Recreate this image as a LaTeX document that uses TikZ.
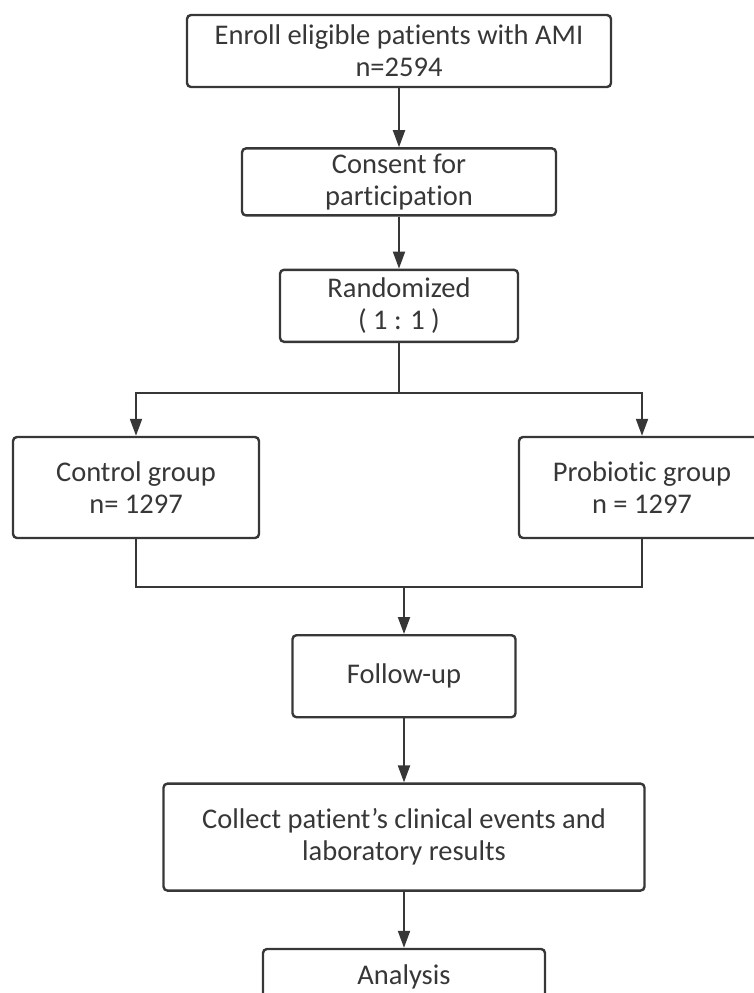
\documentclass[tikz,border=0pt]{standalone}
\usepackage{fontspec}
\setmainfont{Carlito}[Ligatures=NoCommon]
\usepackage{tikz}
\usetikzlibrary{arrows.meta, positioning}
\usepackage{xcolor}
\definecolor{LineGray}{RGB}{55,55,55}

\begin{document}
\begin{tikzpicture}[x=1pt, y=-1pt,
          stage/.style={rectangle, draw=LineGray, line width=2.4pt, rounded corners=4pt, inner sep=0pt, align=center, text=LineGray, font=\fontsize{28.5}{32}\selectfont},
          flow/.style={draw=LineGray, line width=2pt, -{Triangle[length=17pt, width=12pt]}},
          link/.style={draw=LineGray, line width=2pt}
        ]
          \useasboundingbox (0,0) rectangle (753,993);
          \node (enroll) [stage, minimum width=424pt, minimum height=72pt] at (399,51) {Enroll eligible patients with AMI\\n=2594};
          \node (consent) [stage, minimum width=314pt, minimum height=67pt, below=59pt of enroll] {Consent for\\participation};
          \node (random) [stage, minimum width=238pt, minimum height=72pt, below=52pt of consent] {Randomized\\( 1 : 1 )};
          \coordinate [below=50pt of random] (split);
          \node (control) [stage, minimum width=246pt, minimum height=101pt] at (136,487.5) {Control group\\n= 1297};
          \node (probiotic) [stage, minimum width=246pt, minimum height=101pt] at (642,487.5) {Probiotic group\\n = 1297};
          \coordinate (merge) at (404,587);
          \node (follow) [stage, minimum width=223pt, minimum height=82pt, below=47pt of merge] {Follow-up};
          \node (collect) [stage, minimum width=481pt, minimum height=107pt, below=64pt of follow] {Collect patient's clinical events and\\laboratory results};
          \node (analysis) [stage, minimum width=282pt, minimum height=56pt, below=56pt of collect] {Analysis}; % cut by the page edge
          % connectors
          \draw [flow] (enroll) -- (consent);
          \draw [flow] (consent) -- (random);
          \draw [link] (random) -- (split);
          \draw [flow] (split) -| (control);
          \draw [flow] (split) -| (probiotic);
          \draw [link] (control) |- (merge);
          \draw [link] (probiotic) |- (merge);
          \draw [flow] (merge) -- (follow);
          \draw [flow] (follow) -- (collect);
          \draw [flow] (collect) -- (analysis);
        \end{tikzpicture}
\end{document}
